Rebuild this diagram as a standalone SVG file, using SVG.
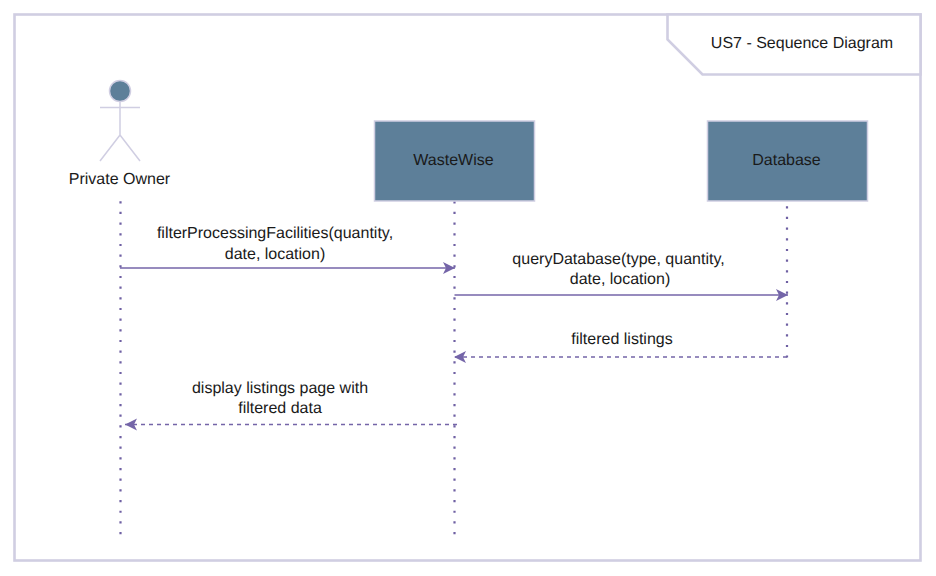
<svg xmlns="http://www.w3.org/2000/svg" width="936" height="576" viewBox="0 0 936 576">
<style>
text{font-family:"Liberation Sans",Arial,sans-serif;font-size:16px;fill:#1a1a1a;text-anchor:middle;text-rendering:geometricPrecision}
.frame{fill:#fff;stroke:#d0cee2;stroke-width:2.6}
.life{fill:none;stroke:#6f60a3;stroke-width:2.2;stroke-dasharray:2.2 8.47}
.msg{fill:none;stroke:#7465a8;stroke-width:1.4}
.ret{stroke-dasharray:4 4}
.box{fill:#5d7f99;stroke:#d0cee2;stroke-width:1.5}
.fig{fill:none;stroke:#d0cee2;stroke-width:1.5}
</style>
<defs>
<marker id="arr" markerUnits="userSpaceOnUse" markerWidth="14" markerHeight="14" refX="12" refY="6" orient="auto" viewBox="0 0 14 12"><path d="M0 0 L12 6 L0 12 L3 6 Z" fill="#7465a8"/></marker>
</defs>
<rect width="936" height="576" fill="#fff"/>
<g id="frame">
<rect class="frame" x="14.5" y="14.5" width="906" height="546"/>
<path class="frame" d="M667.500 14.500H920.500V74.500H702.500L667.500 39.500Z"/>
<text x="802" y="48">US7 - Sequence Diagram</text>
</g>
<g id="connectors">
<path class="life" d="M120.500 201.200V535"/>
<path class="life" d="M454.500 201.200V535"/>
<path class="life" d="M787 206.200V357.500"/>
<path class="msg" d="M120 268H455" marker-end="url(#arr)"/>
<path class="msg" d="M454.500 295H788" marker-end="url(#arr)"/>
<path class="msg ret" d="M787 357H454" marker-end="url(#arr)"/>
<path class="msg ret" d="M457 424.500H125" marker-end="url(#arr)"/>
</g>
<g id="private-owner">
<circle cx="120" cy="91" r="10.500" fill="#5d7f99" stroke="#d0cee2" stroke-width="1.500"/>
<path class="fig" d="M120 101.500V135M100 107.500H140M100 161L120 135L140 161"/>
<text x="119.500" y="184">Private Owner</text>
</g>
<g id="wastewise">
<rect class="box" x="374.500" y="121" width="160" height="80"/>
<text x="453.500" y="165">WasteWise</text>
</g>
<g id="database">
<rect class="box" x="707.500" y="121" width="160" height="80"/>
<text x="786.500" y="165">Database</text>
</g>
<g id="labels">
<text x="275" y="238">filterProcessingFacilities(quantity,</text>
<text x="275" y="259">date, location)</text>
<text x="618.500" y="264">queryDatabase(type, quantity,</text>
<text x="620" y="284">date, location)</text>
<text x="622" y="344">filtered listings</text>
<text x="280" y="393">display listings page with</text>
<text x="280" y="413">filtered data</text>
</g>
</svg>
